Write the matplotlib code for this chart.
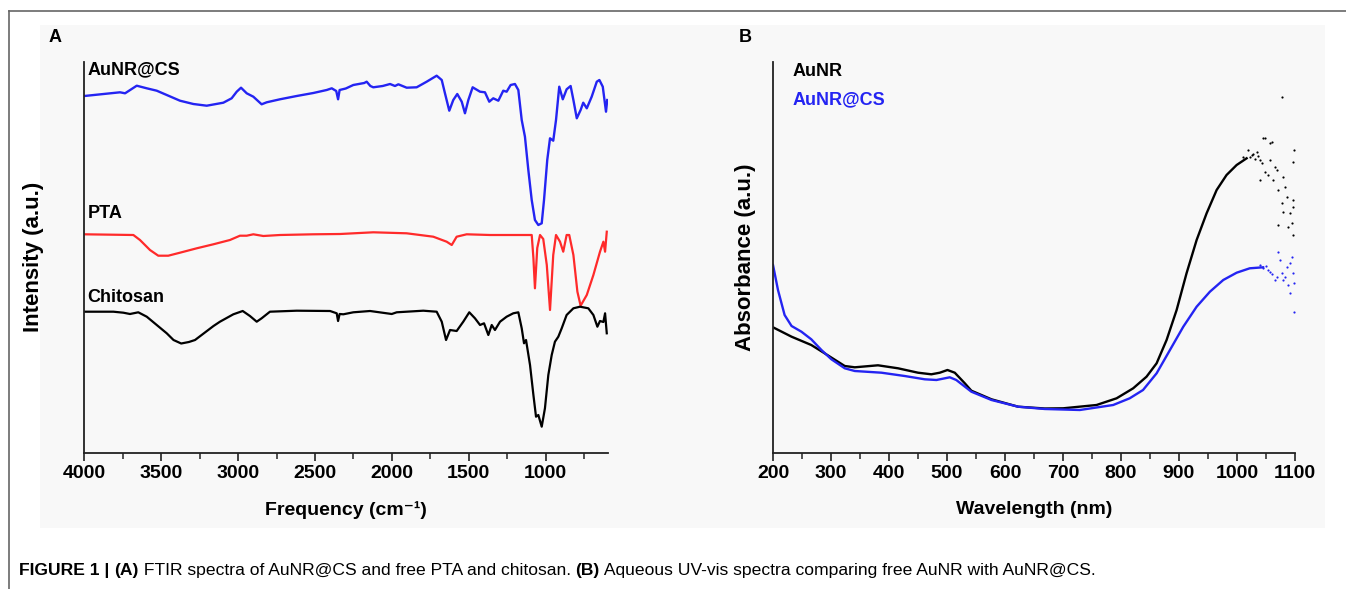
import numpy as np
import matplotlib.pyplot as plt
from matplotlib.lines import Line2D
from matplotlib.patches import Rectangle
from matplotlib.ticker import MultipleLocator

plt.rcParams['font.family'] = ['Liberation Sans', 'DejaVu Sans']

# ---- panel A: FTIR (wavenumber cm-1, offset intensity a.u.) ----
wn_cs = [4000, 3768, 3735, 3659, 3594, 3529, 3464, 3378, 3291, 3204, 3096, 3042, 3009, 2981,
         2944, 2901, 2847, 2814, 2728, 2619, 2511, 2424, 2391, 2362, 2350, 2340, 2300, 2251,
         2180, 2164, 2140, 2121, 2060, 2012, 1980, 1958, 1904, 1839, 1774, 1709, 1676, 1655,
         1627, 1601, 1575, 1546, 1525, 1503, 1475, 1427, 1395, 1367, 1341, 1308, 1276, 1254,
         1228, 1200, 1178, 1156, 1135, 1113, 1091, 1070, 1048, 1026, 1011, 990, 972, 951, 933,
         912, 889, 864, 838, 820, 798, 773, 756, 733, 701, 668, 651, 629, 608, 600]
int_cs = [354, 357.7, 356.7, 364.3, 361.7, 359.3, 355, 349.3, 346, 344.3, 347.3, 351.7, 358.3, 362.3,
          356.7, 353.3, 345.7, 347.7, 350.7, 354, 357, 360, 361.7, 359, 350.7, 360, 361.5, 365,
          367, 368.3, 364, 362.7, 364, 366, 364, 365.7, 362.3, 362.7, 368.3, 374.3, 370, 356.7,
          339.3, 350, 356, 348.3, 336.7, 350, 362.7, 358.3, 357.7, 348.3, 351.7, 349.3, 359.3, 358.3,
          365, 366, 360, 330, 313.3, 280, 250, 230, 225, 226.7, 250, 290, 311.7, 309.3, 330,
          363.3, 350.7, 360.7, 364, 350, 331.7, 340, 347.3, 341.7, 353.3, 368.3, 370, 363.3, 338.3, 350]

wn_pta = [4000, 3681, 3638, 3573, 3519, 3454, 3378, 3269, 3161, 3053, 2988, 2944, 2901, 2836,
          2728, 2511, 2337, 2121, 1904, 1731, 1644, 1611, 1579, 1514, 1362, 1124, 1091, 1080,
          1070, 1055, 1037, 1016, 993, 972, 951, 933, 907, 886, 864, 847, 820, 794, 773, 733,
          690, 647, 625, 614, 603]
int_pta = [215.7, 215, 210, 200, 194.3, 194.3, 197.3, 201.7, 205.7, 210, 214.3, 214.3, 215.7, 214,
           215, 215.7, 216, 217.7, 216.7, 213.3, 208.3, 205, 213.3, 215.7, 215, 215, 215, 192,
           161.7, 202, 215, 211, 185, 140, 195, 215, 208.3, 198.3, 215, 215, 195, 158.3, 144.3, 155,
           175, 198.3, 208.3, 198.3, 218.3]

wn_chi = [4000, 3811, 3746, 3703, 3649, 3594, 3529, 3464, 3420, 3370, 3320, 3280, 3220, 3160,
          3118, 3031, 2970, 2923, 2879, 2847, 2793, 2619, 2402, 2359, 2350, 2340, 2316, 2251,
          2142, 2001, 1969, 1796, 1709, 1676, 1648, 1622, 1579, 1536, 1497, 1460, 1427, 1401,
          1373, 1351, 1330, 1297, 1254, 1211, 1178, 1156, 1141, 1128, 1102, 1080, 1063, 1048,
          1026, 1005, 983, 961, 940, 918, 896, 864, 820, 777, 723, 690, 664, 647, 625, 614, 603]
int_chi = [138.3, 138.3, 137.3, 136, 137.7, 133.3, 125, 116.7, 110, 106.5, 108, 110, 117, 124,
           128.3, 135.7, 139, 134, 128.3, 131.7, 138.3, 139.3, 139, 136.7, 129, 136, 135.7, 137.7,
           139, 136, 137.7, 139.3, 138.3, 128.3, 110, 120, 119, 128.3, 137.7, 131.7, 125, 126.7,
           115, 125, 120, 128.3, 133.3, 136.7, 137.7, 121.7, 106.7, 110, 85, 55, 33.3, 35,
           23.3, 41.7, 75, 95, 108.3, 113.3, 121.7, 135, 141.7, 143.3, 141.7, 135, 123.3, 129, 128, 136.7, 116.7]

# ---- panel B: UV-vis (wavelength nm, absorbance a.u.) ----
wl_aunr = [200, 232, 266, 289, 323.7, 341, 381, 415.6, 450, 473, 487.6, 500.8, 513.4, 530.7,
           542, 576.7, 622.6, 668.7, 700.3, 757.8, 792.4, 821, 844, 861.4, 878.6, 895.9, 913,
           930.4, 947.6, 964.9, 982, 999.4, 1016.6]
abs_aunr = [122.7, 113.3, 105, 96.7, 84, 82.7, 84.7, 81.7, 77.3, 75.7, 77.3, 80, 77.3, 66.7,
            59.3, 50.7, 43.3, 41.5, 41.7, 45, 51.7, 61.7, 73.3, 86.7, 110, 140, 176.7,
            210, 236.7, 260, 275, 285, 291.7]
wl_cs = [200, 208.6, 220, 232, 249, 266, 283.5, 300.7, 323.7, 341, 387, 427, 461.6, 481.8,
         504.8, 516, 542, 576.7, 622.6, 668.7, 729, 786.5, 815, 838, 861.4, 884.4, 907.4,
         930.4, 953.3, 976.3, 999.4, 1022, 1045]
abs_cs = [185, 160, 135, 124, 118.3, 110.7, 100, 90.7, 81.7, 79, 77.3, 74, 70.7, 70,
          72.7, 70, 58.3, 50, 43.3, 41, 40, 45, 51.7, 60, 76.7, 100, 123.3,
          143.3, 158.3, 170, 177.3, 181.7, 182.7]

# noisy tail points beyond ~1000 nm
wl_aunr_pts = [1010.8, 1019.5, 1025.3, 1034, 1039.7, 1042.6, 1045.3, 1048, 1048.3, 1054, 1057, 1057,
               1060, 1062.6, 1065.5, 1068.4, 1071.2, 1071.2, 1077, 1077, 1079.8, 1079.8, 1082.8,
               1085.7, 1088.5, 1091.4, 1094.3, 1097.1, 1097.1, 1097.1, 1097.1, 1098.3,
               1022, 1028, 1031, 1036, 1040]
abs_aunr_pts = [293.3, 300, 295, 298.3, 270, 286.7, 311.7, 312, 278.3, 275, 306.7, 290,
                308, 270, 283.3, 280, 260, 225, 353.3, 246.7, 273.3, 238.3, 263.3,
                253.3, 223.3, 236.7, 226.7, 250, 243.3, 215, 288.3, 300,
                293, 296, 291, 294, 290]
wl_cs_pts = [1039.7, 1045.3, 1057, 1065.5, 1068.4, 1071.2, 1074, 1077, 1079.8, 1082.8, 1085.7,
             1088.5, 1091.4, 1091.4, 1094.3, 1097.1, 1098.3, 1098.3, 1050, 1053, 1061]
abs_cs_pts = [185, 181.7, 178.3, 170, 173.3, 198.3, 190, 176.7, 170, 173.3, 183.3,
              165, 186.7, 156.7, 193.3, 176.7, 166.7, 138.3, 184, 180, 176]

blue = '#2424f2'
red = '#ff2a2a'

fig = plt.figure(figsize=(13.46, 5.89), dpi=100)
W, H = 1346, 589

# light panel background and outer frame
fig.add_artist(Rectangle((40 / W, 1 - 528 / H), 1285 / W, 503 / H, transform=fig.transFigure,
                         facecolor='#f8f8f8', edgecolor='none', zorder=0))
fig.add_artist(Line2D([9 / W, 1], [1 - 10.5 / H, 1 - 10.5 / H], transform=fig.transFigure,
                      color='#666666', lw=1.2))
fig.add_artist(Line2D([9 / W, 9 / W], [0, 1 - 10.5 / H], transform=fig.transFigure,
                      color='#666666', lw=1.2))

axA = fig.add_axes([84.3 / W, 1 - 452.5 / H, (608 - 84.3) / W, (452.5 - 62) / H])
axB = fig.add_axes([773 / W, 1 - 452.5 / H, (1295 - 773) / W, (452.5 - 62) / H])

for ax in (axA, axB):
    ax.set_facecolor('none')
    ax.spines['top'].set_visible(False)
    ax.spines['right'].set_visible(False)
    for s in ('left', 'bottom'):
        ax.spines[s].set_linewidth(1.3)
        ax.spines[s].set_color('#222222')
    ax.set_yticks([])
    ax.tick_params(axis='x', which='major', direction='out', length=6, width=1.2,
                   labelsize=14, pad=3, color='#222222')
    ax.tick_params(axis='x', which='minor', direction='out', length=4, width=1.1, color='#222222')
    ax.set_ylim(-2.5, 388)

axA.plot(wn_cs, int_cs, color=blue, lw=1.7)
axA.plot(wn_pta, int_pta, color=red, lw=1.6)
axA.plot(wn_chi, int_chi, color='black', lw=1.6)
axA.set_xlim(4000, 595)
axA.xaxis.set_minor_locator(MultipleLocator(250))
axA.set_xticks([4000, 3500, 3000, 2500, 2000, 1500, 1000])
axA.set_xticklabels(['4000', '3500', '3000', '2500', '2000', '1500', '1000'], fontweight='bold')
axA.text(3980, 380, 'AuNR@CS', fontsize=13, fontweight='bold', va='center', ha='left')
axA.text(3980, 237, 'PTA', fontsize=13, fontweight='bold', va='center', ha='left')
axA.text(3980, 153, 'Chitosan', fontsize=13, fontweight='bold', va='center', ha='left')
axA.set_xlabel('Frequency (cm\u207b\u00b9)', fontsize=14, fontweight='bold', labelpad=14)
axA.set_ylabel('Intensity (a.u.)', fontsize=16, fontweight='bold', labelpad=29)

axB.plot(wl_aunr, abs_aunr, color='black', lw=1.7)
axB.plot(wl_cs, abs_cs, color=blue, lw=1.7)
axB.scatter(wl_aunr_pts, abs_aunr_pts, s=2.5, color='black', lw=0)
axB.scatter(wl_cs_pts, abs_cs_pts, s=2.5, color=blue, lw=0)
axB.set_xlim(200, 1100)
axB.xaxis.set_minor_locator(MultipleLocator(50))
axB.set_xticks(range(200, 1101, 100))
axB.set_xticklabels([str(v) for v in range(200, 1101, 100)], fontweight='bold')
axB.text(234, 378, 'AuNR', fontsize=13, fontweight='bold', va='center', ha='left', color='black')
axB.text(234, 350, 'AuNR@CS', fontsize=13, fontweight='bold', va='center', ha='left', color=blue)
axB.set_xlabel('Wavelength (nm)', fontsize=14, fontweight='bold', labelpad=14)
axB.set_ylabel('Absorbance (a.u.)', fontsize=16, fontweight='bold', labelpad=12)

fig.text(55 / W, 1 - 37 / H, 'A', fontsize=13, fontweight='bold', ha='center', va='center')
fig.text(745 / W, 1 - 37 / H, 'B', fontsize=13, fontweight='bold', ha='center', va='center')

# caption with mixed bold/regular segments
segments = [('FIGURE 1 | ', 'bold'), ('(A)', 'bold'),
            (' FTIR spectra of AuNR@CS and free PTA and chitosan. ', 'normal'),
            ('(B)', 'bold'),
            (' Aqueous UV-vis spectra comparing free AuNR with AuNR@CS.', 'normal')]
renderer = fig.canvas.get_renderer()
x = 19
for txt, w in segments:
    t = fig.text(x / W, 1 - 571 / H, txt, fontsize=12.6, fontweight=w,
                 ha='left', va='center')
    x += t.get_window_extent(renderer).width

fig.savefig('out.png', dpi=100)
